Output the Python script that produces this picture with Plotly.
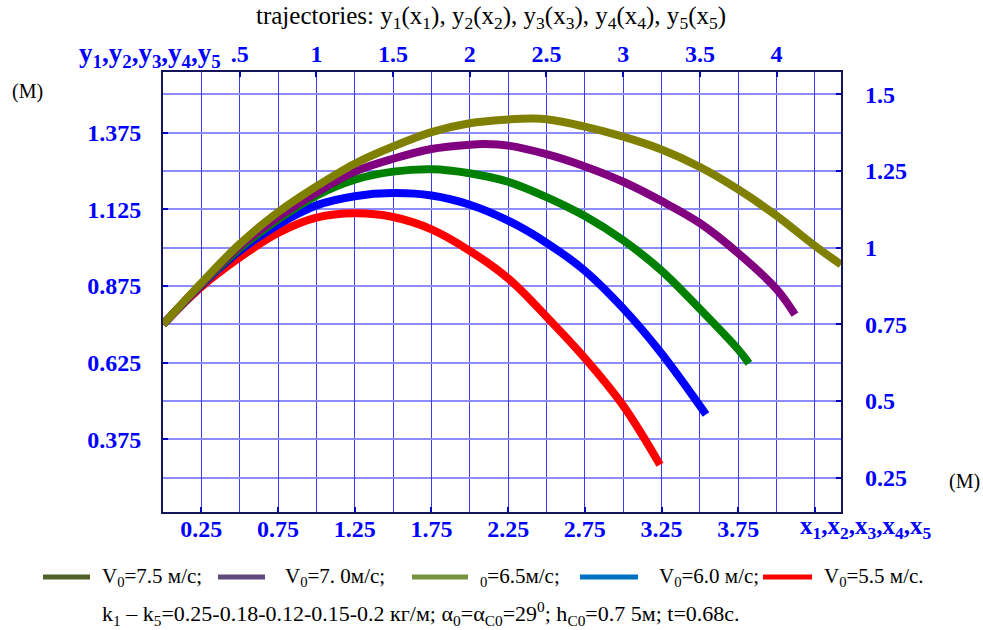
import plotly.graph_objects as go

# ---------------- data ----------------
x_v75 = [0, 0.25, 0.5, 0.75, 1.0, 1.25, 1.5, 1.75, 2.0, 2.25, 2.4, 2.5, 2.75, 3.0, 3.25, 3.5, 3.75, 4.0, 4.25, 4.42]
y_v75 = [0.75, 0.885, 1.012, 1.116, 1.200, 1.274, 1.330, 1.377, 1.406, 1.418, 1.421, 1.419, 1.395, 1.362, 1.320, 1.263, 1.190, 1.104, 1.006, 0.945]

x_v70 = [0, 0.25, 0.5, 0.75, 1.0, 1.25, 1.5, 1.75, 2.0, 2.1, 2.25, 2.5, 2.75, 3.0, 3.25, 3.5, 3.75, 4.0, 4.12]
y_v70 = [0.75, 0.882, 1.005, 1.100, 1.180, 1.248, 1.290, 1.322, 1.336, 1.338, 1.333, 1.305, 1.265, 1.215, 1.152, 1.080, 0.982, 0.865, 0.782]

x_v65 = [0, 0.25, 0.5, 0.75, 1.0, 1.25, 1.5, 1.75, 2.0, 2.25, 2.5, 2.75, 3.0, 3.25, 3.5, 3.75, 3.82]
y_v65 = [0.75, 0.880, 0.998, 1.092, 1.170, 1.222, 1.248, 1.256, 1.243, 1.215, 1.165, 1.103, 1.024, 0.925, 0.800, 0.668, 0.623]

x_v60 = [0, 0.25, 0.5, 0.75, 1.0, 1.25, 1.5, 1.75, 2.0, 2.25, 2.5, 2.75, 3.0, 3.25, 3.54]
y_v60 = [0.75, 0.878, 0.990, 1.075, 1.138, 1.168, 1.178, 1.170, 1.140, 1.088, 1.016, 0.925, 0.802, 0.655, 0.456]

x_v55 = [0, 0.25, 0.5, 0.75, 1.0, 1.25, 1.5, 1.75, 2.0, 2.25, 2.5, 2.75, 3.0, 3.24]
y_v55 = [0.75, 0.872, 0.968, 1.048, 1.098, 1.112, 1.100, 1.060, 0.990, 0.900, 0.775, 0.640, 0.485, 0.292]

trace_colors = ["#808000", "#800080", "#008000", "#0000ff", "#ff0000"]  # 7.5, 7.0, 6.5, 6.0, 5.5

# axis ticks
x_bottom_ticks = [0.25, 0.75, 1.25, 1.75, 2.25, 2.75, 3.25, 3.75, 4.25]
x_bottom_labels = ["0.25", "0.75", "1.25", "1.75", "2.25", "2.75", "3.25", "3.75", " "]
x_grid_minor = [0.5, 1.0, 1.5, 2.0, 2.5, 3.0, 3.5, 4.0]
x_top_ticks = [0.5, 1.0, 1.5, 2.0, 2.5, 3.0, 3.5, 4.0]
x_top_labels = [".5", "1", "1.5", "2", "2.5", "3", "3.5", "4"]
y_left_ticks = [0.375, 0.625, 0.875, 1.125, 1.375]
y_left_labels = ["0.375", "0.625", "0.875", "1.125", "1.375"]
y_right_ticks = [0.25, 0.5, 0.75, 1.0, 1.25, 1.5]
y_right_labels = ["0.25", "0.5", "0.75", "1", "1.25", "1.5"]

x_range = [0, 4.42]
y_range = [0.138, 1.573]

# legend
legend_colors = ["#4f6228", "#604a7b", "#77933c", "#0070c0", "#ff0000"]
legend_texts = ["V<sub>0</sub>=7.5 м/с;", "V<sub>0</sub>=7. 0м/с;", "<sub>0</sub>=6.5м/с;",
                "V<sub>0</sub>=6.0 м/с;", "V<sub>0</sub>=5.5 м/с."]

title_text = ("trajectories: y<sub>1</sub>(x<sub>1</sub>), y<sub>2</sub>(x<sub>2</sub>), "
              "y<sub>3</sub>(x<sub>3</sub>), y<sub>4</sub>(x<sub>4</sub>), y<sub>5</sub>(x<sub>5</sub>)")
footnote_text = ("k<sub>1</sub> – k<sub>5</sub>=0.25-0.18-0.12-0.15-0.2 кг/м; "
                 "α<sub>0</sub>=α<sub>C0</sub>=29<sup>0</sup>; h<sub>C0</sub>=0.7 5м; t=0.68с.")

# ---------------- figure ----------------
W, H = 983, 630
ML, MR, MT, MB = 163, 142, 72, 118
PW, PH = W - ML - MR, H - MT - MB


def px(xp):
    return (xp - ML) / PW


def py(yp):
    return (H - MB - yp) / PH


fig = go.Figure()
series = [(x_v55, y_v55, 4), (x_v60, y_v60, 3), (x_v65, y_v65, 2), (x_v70, y_v70, 1), (x_v75, y_v75, 0)]
for xs, ys, ci in series:
    fig.add_trace(go.Scatter(x=xs, y=ys, mode="lines",
                             line=dict(color=trace_colors[ci], width=8, shape="spline", smoothing=1.0),
                             showlegend=False, hoverinfo="skip"))
# invisible trace to activate top/right axes
fig.add_trace(go.Scatter(x=[None], y=[None], xaxis="x2", yaxis="y2", showlegend=False, hoverinfo="skip"))

SERIF = "Liberation Serif"
tickfont = dict(family=SERIF, size=24, color="#0000ff", weight="bold")
frame = "#14145a"

fig.update_layout(
    width=W, height=H,
    margin=dict(l=ML, r=MR, t=MT, b=MB, autoexpand=False),
    paper_bgcolor="white", plot_bgcolor="white",
    showlegend=False,
    xaxis=dict(range=x_range, tickvals=x_bottom_ticks, ticktext=x_bottom_labels, automargin=False,
               showgrid=True, gridcolor="#3a3aff", gridwidth=1,
               minor=dict(tickvals=x_grid_minor, showgrid=True, gridcolor="#3a3aff", gridwidth=1, ticks=""),
               ticks="inside", ticklen=5, tickwidth=2, tickcolor="#0000c0",
               showline=True, linecolor=frame, linewidth=2, mirror=True,
               zeroline=False, tickfont=tickfont, ticklabelstandoff=-6),
    xaxis2=dict(range=x_range, overlaying="x", side="top", tickvals=x_top_ticks, ticktext=x_top_labels,
                automargin=False,
                showgrid=False, ticks="inside", ticklen=5, tickwidth=2, tickcolor="#0000c0",
                zeroline=False, tickfont=tickfont, ticklabelstandoff=4),
    yaxis=dict(range=y_range, tickvals=y_left_ticks, ticktext=y_left_labels, automargin=False,
               showgrid=True, gridcolor="#8c8cff", gridwidth=2,
               minor=dict(tickvals=y_right_ticks, showgrid=True, gridcolor="#8c8cff", gridwidth=2, ticks=""),
               ticks="inside", ticklen=5, tickwidth=2, tickcolor="#0000c0",
               showline=True, linecolor=frame, linewidth=2, mirror=True,
               zeroline=False, tickfont=tickfont, ticklabelstandoff=15),
    yaxis2=dict(range=y_range, overlaying="y", side="right", tickvals=y_right_ticks, ticktext=y_right_labels,
                automargin=False,
                showgrid=False, ticks="inside", ticklen=5, tickwidth=2, tickcolor="#0000c0",
                zeroline=False, tickfont=tickfont, ticklabelstandoff=23),
)

ann = []
ann.append(dict(x=px(491), y=py(17), text=title_text, font=dict(family=SERIF, size=25, color="black")))
ann.append(dict(x=px(150), y=py(55), text="y<sub>1</sub>,y<sub>2</sub>,y<sub>3</sub>,y<sub>4</sub>,y<sub>5</sub>",
                font=dict(family=SERIF, size=27, color="#0000ff", weight="bold")))
ann.append(dict(x=px(27), y=py(92), text="(M)", font=dict(family=SERIF, size=20, color="black")))
ann.append(dict(x=px(964), y=py(481), text="(M)", font=dict(family=SERIF, size=20, color="black")))
ann.append(dict(x=px(866), y=py(527), text="x<sub>1</sub>,x<sub>2</sub>,x<sub>3</sub>,x<sub>4</sub>,x<sub>5</sub>",
                font=dict(family=SERIF, size=25, color="#0000ff", weight="bold")))

# legend
sample_px = [(43, 90), (218, 265), (412, 468), (580, 638), (763, 812)]
text_px = [100, 283, 478, 657, 822]
shapes = []
for (a, b), tx, col, txt in zip(sample_px, text_px, legend_colors, legend_texts):
    shapes.append(dict(type="line", xref="paper", yref="paper", x0=px(a), x1=px(b), y0=py(577), y1=py(577),
                       line=dict(color=col, width=5)))
    ann.append(dict(x=px(tx), y=py(577), text=txt, xanchor="left",
                    font=dict(family=SERIF, size=21, color="black")))
ann.append(dict(x=px(100), y=py(613), text=footnote_text, xanchor="left",
                font=dict(family=SERIF, size=22, color="black")))

for a in ann:
    a.setdefault("xref", "paper")
    a.setdefault("yref", "paper")
    a.setdefault("showarrow", False)
    a.setdefault("xanchor", "center")
    a.setdefault("yanchor", "middle")
fig.update_layout(annotations=ann, shapes=shapes)

fig.write_html("out.html", config={"displayModeBar": False},
               post_script="document.body.style.margin='0';document.body.style.overflow='hidden';")
